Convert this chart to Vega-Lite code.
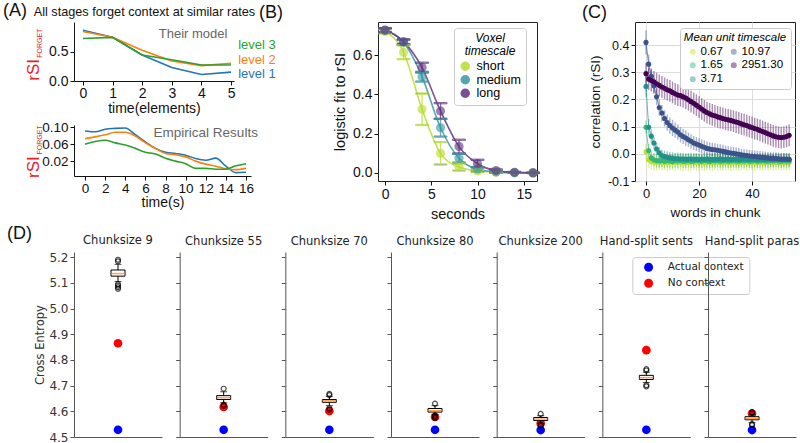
{
"$schema":"https://vega.github.io/schema/vega-lite/v6.json",
"background":"white",
"padding":{"left":2,"top":2,"right":0,"bottom":0},
"bounds":"flush",
"spacing":230,
"resolve":{"scale":{"color":"independent","stroke":"independent","x":"independent","y":"independent"},"legend":{"color":"independent","stroke":"independent"},"axis":{"x":"independent","y":"independent"}},
"config":{
 "view":{"stroke":null},
 "font":"Liberation Sans",
 "axis":{"grid":false,"labelOverlap":false,"domainColor":"#111","tickColor":"#111","labelColor":"#111","titleColor":"#111","titleFontWeight":"normal","labelFont":"Liberation Sans","titleFont":"Liberation Sans"},
 "title":{"fontWeight":"normal","font":"DejaVu Sans"},
 "legend":{"titleFontWeight":"normal"}
},
"datasets":{
 "model":[
  {"level":"level 1","t":0,"r":0.86},{"level":"level 1","t":1,"r":0.74},{"level":"level 1","t":2,"r":0.44},{"level":"level 1","t":3,"r":0.23},{"level":"level 1","t":4,"r":0.11},{"level":"level 1","t":5,"r":0.15},
  {"level":"level 2","t":0,"r":0.84},{"level":"level 2","t":1,"r":0.74},{"level":"level 2","t":2,"r":0.52},{"level":"level 2","t":3,"r":0.34},{"level":"level 2","t":4,"r":0.26},{"level":"level 2","t":5,"r":0.30},
  {"level":"level 3","t":0,"r":0.72},{"level":"level 3","t":1,"r":0.74},{"level":"level 3","t":2,"r":0.44},{"level":"level 3","t":3,"r":0.36},{"level":"level 3","t":4,"r":0.27},{"level":"level 3","t":5,"r":0.27}
 ],
 "emp":[
  {"level":"level 1","t":0,"r":0.091},{"level":"level 1","t":1,"r":0.089},{"level":"level 1","t":2,"r":0.095},{"level":"level 1","t":3,"r":0.097},{"level":"level 1","t":4,"r":0.098},{"level":"level 1","t":5,"r":0.082},{"level":"level 1","t":6,"r":0.065},{"level":"level 1","t":7,"r":0.05},{"level":"level 1","t":8,"r":0.041},{"level":"level 1","t":9,"r":0.038},{"level":"level 1","t":10,"r":0.034},{"level":"level 1","t":11,"r":0.026},{"level":"level 1","t":12,"r":0.022},{"level":"level 1","t":13,"r":0.027},{"level":"level 1","t":14,"r":0.008},{"level":"level 1","t":15,"r":-0.007},{"level":"level 1","t":16,"r":-0.006},
  {"level":"level 2","t":0,"r":0.073},{"level":"level 2","t":1,"r":0.077},{"level":"level 2","t":2,"r":0.082},{"level":"level 2","t":3,"r":0.088},{"level":"level 2","t":4,"r":0.088},{"level":"level 2","t":5,"r":0.079},{"level":"level 2","t":6,"r":0.063},{"level":"level 2","t":7,"r":0.05},{"level":"level 2","t":8,"r":0.038},{"level":"level 2","t":9,"r":0.035},{"level":"level 2","t":10,"r":0.03},{"level":"level 2","t":11,"r":0.02},{"level":"level 2","t":12,"r":0.013},{"level":"level 2","t":13,"r":0.008},{"level":"level 2","t":14,"r":0.002},{"level":"level 2","t":15,"r":0.0},{"level":"level 2","t":16,"r":0.003},
  {"level":"level 3","t":0,"r":0.06},{"level":"level 3","t":1,"r":0.066},{"level":"level 3","t":2,"r":0.069},{"level":"level 3","t":3,"r":0.063},{"level":"level 3","t":4,"r":0.058},{"level":"level 3","t":5,"r":0.05},{"level":"level 3","t":6,"r":0.041},{"level":"level 3","t":7,"r":0.037},{"level":"level 3","t":8,"r":0.027},{"level":"level 3","t":9,"r":0.02},{"level":"level 3","t":10,"r":0.014},{"level":"level 3","t":11,"r":0.003},{"level":"level 3","t":12,"r":0.003},{"level":"level 3","t":13,"r":0.001},{"level":"level 3","t":14,"r":0.001},{"level":"level 3","t":15,"r":0.009},{"level":"level 3","t":16,"r":0.014}
 ],
 "bdat":[
  {"ts":"short","t":0,"v":0.72,"e":0.01},{"ts":"short","t":2,"v":0.614,"e":0.035},{"ts":"short","t":4,"v":0.324,"e":0.08},{"ts":"short","t":6,"v":0.10,"e":0.057},{"ts":"short","t":8,"v":0.03,"e":0.018},{"ts":"short","t":10,"v":0.01,"e":0.006},{"ts":"short","t":12,"v":0.004,"e":0.003},{"ts":"short","t":14,"v":0.001,"e":0.0},{"ts":"short","t":16,"v":0.0,"e":0.0},
  {"ts":"medium","t":0,"v":0.725,"e":0.01},{"ts":"medium","t":2,"v":0.665,"e":0.012},{"ts":"medium","t":4,"v":0.49,"e":0.025},{"ts":"medium","t":6,"v":0.23,"e":0.045},{"ts":"medium","t":8,"v":0.075,"e":0.022},{"ts":"medium","t":10,"v":0.02,"e":0.01},{"ts":"medium","t":12,"v":0.005,"e":0.004},{"ts":"medium","t":14,"v":0.001,"e":0.0},{"ts":"medium","t":16,"v":0.0,"e":0.0},
  {"ts":"long","t":0,"v":0.727,"e":0.01},{"ts":"long","t":2,"v":0.668,"e":0.012},{"ts":"long","t":4,"v":0.536,"e":0.025},{"ts":"long","t":6,"v":0.315,"e":0.04},{"ts":"long","t":8,"v":0.134,"e":0.035},{"ts":"long","t":10,"v":0.047,"e":0.02},{"ts":"long","t":12,"v":0.012,"e":0.006},{"ts":"long","t":14,"v":0.003,"e":0.002},{"ts":"long","t":16,"v":0.001,"e":0.0}
 ],
 "cdat":[
  {"s":"0.67","w":0,"v":0.008,"e":0.03},{"s":"0.67","w":1,"v":-0.022,"e":0.03},{"s":"0.67","w":2,"v":-0.028,"e":0.03},{"s":"0.67","w":3,"v":-0.03,"e":0.03},{"s":"0.67","w":4,"v":-0.031,"e":0.03},{"s":"0.67","w":5,"v":-0.029,"e":0.03},{"s":"0.67","w":6,"v":-0.032,"e":0.03},{"s":"0.67","w":7,"v":-0.03,"e":0.03},{"s":"0.67","w":8,"v":-0.033,"e":0.03},{"s":"0.67","w":9,"v":-0.031,"e":0.03},{"s":"0.67","w":10,"v":-0.03,"e":0.03},{"s":"0.67","w":11,"v":-0.032,"e":0.03},{"s":"0.67","w":12,"v":-0.029,"e":0.03},{"s":"0.67","w":13,"v":-0.031,"e":0.03},{"s":"0.67","w":14,"v":-0.033,"e":0.03},{"s":"0.67","w":15,"v":-0.03,"e":0.03},{"s":"0.67","w":16,"v":-0.032,"e":0.03},{"s":"0.67","w":17,"v":-0.031,"e":0.03},{"s":"0.67","w":18,"v":-0.029,"e":0.03},{"s":"0.67","w":19,"v":-0.032,"e":0.03},{"s":"0.67","w":20,"v":-0.03,"e":0.03},{"s":"0.67","w":21,"v":-0.031,"e":0.03},{"s":"0.67","w":22,"v":-0.033,"e":0.03},{"s":"0.67","w":23,"v":-0.03,"e":0.03},{"s":"0.67","w":24,"v":-0.031,"e":0.03},{"s":"0.67","w":25,"v":-0.032,"e":0.03},{"s":"0.67","w":26,"v":-0.029,"e":0.03},{"s":"0.67","w":27,"v":-0.031,"e":0.03},{"s":"0.67","w":28,"v":-0.03,"e":0.03},{"s":"0.67","w":29,"v":-0.032,"e":0.03},{"s":"0.67","w":30,"v":-0.031,"e":0.03},{"s":"0.67","w":31,"v":-0.03,"e":0.03},{"s":"0.67","w":32,"v":-0.033,"e":0.03},{"s":"0.67","w":33,"v":-0.031,"e":0.03},{"s":"0.67","w":34,"v":-0.03,"e":0.03},{"s":"0.67","w":35,"v":-0.032,"e":0.03},{"s":"0.67","w":36,"v":-0.031,"e":0.03},{"s":"0.67","w":37,"v":-0.029,"e":0.03},{"s":"0.67","w":38,"v":-0.032,"e":0.03},{"s":"0.67","w":39,"v":-0.03,"e":0.03},{"s":"0.67","w":40,"v":-0.031,"e":0.03},{"s":"0.67","w":41,"v":-0.033,"e":0.03},{"s":"0.67","w":42,"v":-0.03,"e":0.03},{"s":"0.67","w":43,"v":-0.031,"e":0.03},{"s":"0.67","w":44,"v":-0.032,"e":0.03},{"s":"0.67","w":45,"v":-0.03,"e":0.03},{"s":"0.67","w":46,"v":-0.031,"e":0.03},{"s":"0.67","w":47,"v":-0.029,"e":0.03},{"s":"0.67","w":48,"v":-0.032,"e":0.03},{"s":"0.67","w":49,"v":-0.031,"e":0.03},{"s":"0.67","w":50,"v":-0.03,"e":0.03},{"s":"0.67","w":51,"v":-0.032,"e":0.03},{"s":"0.67","w":52,"v":-0.031,"e":0.03},{"s":"0.67","w":53,"v":-0.03,"e":0.03},{"s":"0.67","w":54,"v":-0.031,"e":0.03},
  {"s":"1.65","w":0,"v":0.098,"e":0.025},{"s":"1.65","w":1,"v":0.012,"e":0.025},{"s":"1.65","w":2,"v":-0.015,"e":0.025},{"s":"1.65","w":3,"v":-0.022,"e":0.025},{"s":"1.65","w":4,"v":-0.025,"e":0.025},{"s":"1.65","w":5,"v":-0.026,"e":0.025},{"s":"1.65","w":6,"v":-0.024,"e":0.025},{"s":"1.65","w":7,"v":-0.027,"e":0.025},{"s":"1.65","w":8,"v":-0.025,"e":0.025},{"s":"1.65","w":9,"v":-0.026,"e":0.025},{"s":"1.65","w":10,"v":-0.028,"e":0.025},{"s":"1.65","w":11,"v":-0.025,"e":0.025},{"s":"1.65","w":12,"v":-0.026,"e":0.025},{"s":"1.65","w":13,"v":-0.024,"e":0.025},{"s":"1.65","w":14,"v":-0.027,"e":0.025},{"s":"1.65","w":15,"v":-0.026,"e":0.025},{"s":"1.65","w":16,"v":-0.025,"e":0.025},{"s":"1.65","w":17,"v":-0.027,"e":0.025},{"s":"1.65","w":18,"v":-0.026,"e":0.025},{"s":"1.65","w":19,"v":-0.024,"e":0.025},{"s":"1.65","w":20,"v":-0.026,"e":0.025},{"s":"1.65","w":21,"v":-0.027,"e":0.025},{"s":"1.65","w":22,"v":-0.025,"e":0.025},{"s":"1.65","w":23,"v":-0.026,"e":0.025},{"s":"1.65","w":24,"v":-0.028,"e":0.025},{"s":"1.65","w":25,"v":-0.025,"e":0.025},{"s":"1.65","w":26,"v":-0.026,"e":0.025},{"s":"1.65","w":27,"v":-0.024,"e":0.025},{"s":"1.65","w":28,"v":-0.027,"e":0.025},{"s":"1.65","w":29,"v":-0.026,"e":0.025},{"s":"1.65","w":30,"v":-0.025,"e":0.025},{"s":"1.65","w":31,"v":-0.027,"e":0.025},{"s":"1.65","w":32,"v":-0.026,"e":0.025},{"s":"1.65","w":33,"v":-0.025,"e":0.025},{"s":"1.65","w":34,"v":-0.026,"e":0.025},{"s":"1.65","w":35,"v":-0.027,"e":0.025},{"s":"1.65","w":36,"v":-0.025,"e":0.025},{"s":"1.65","w":37,"v":-0.026,"e":0.025},{"s":"1.65","w":38,"v":-0.024,"e":0.025},{"s":"1.65","w":39,"v":-0.027,"e":0.025},{"s":"1.65","w":40,"v":-0.026,"e":0.025},{"s":"1.65","w":41,"v":-0.025,"e":0.025},{"s":"1.65","w":42,"v":-0.027,"e":0.025},{"s":"1.65","w":43,"v":-0.026,"e":0.025},{"s":"1.65","w":44,"v":-0.025,"e":0.025},{"s":"1.65","w":45,"v":-0.026,"e":0.025},{"s":"1.65","w":46,"v":-0.027,"e":0.025},{"s":"1.65","w":47,"v":-0.025,"e":0.025},{"s":"1.65","w":48,"v":-0.026,"e":0.025},{"s":"1.65","w":49,"v":-0.024,"e":0.025},{"s":"1.65","w":50,"v":-0.026,"e":0.025},{"s":"1.65","w":51,"v":-0.027,"e":0.025},{"s":"1.65","w":52,"v":-0.025,"e":0.025},{"s":"1.65","w":53,"v":-0.026,"e":0.025},{"s":"1.65","w":54,"v":-0.026,"e":0.025},
  {"s":"3.71","w":0,"v":0.248,"e":0.04},{"s":"3.71","w":1,"v":0.098,"e":0.03},{"s":"3.71","w":2,"v":0.065,"e":0.025},{"s":"3.71","w":3,"v":0.04,"e":0.022},{"s":"3.71","w":4,"v":0.018,"e":0.022},{"s":"3.71","w":5,"v":0.004,"e":0.022},{"s":"3.71","w":6,"v":-0.006,"e":0.022},{"s":"3.71","w":7,"v":-0.01,"e":0.022},{"s":"3.71","w":8,"v":-0.013,"e":0.022},{"s":"3.71","w":9,"v":-0.015,"e":0.022},{"s":"3.71","w":10,"v":-0.016,"e":0.022},{"s":"3.71","w":11,"v":-0.018,"e":0.022},{"s":"3.71","w":12,"v":-0.017,"e":0.022},{"s":"3.71","w":13,"v":-0.019,"e":0.022},{"s":"3.71","w":14,"v":-0.018,"e":0.022},{"s":"3.71","w":15,"v":-0.02,"e":0.022},{"s":"3.71","w":16,"v":-0.019,"e":0.022},{"s":"3.71","w":17,"v":-0.018,"e":0.022},{"s":"3.71","w":18,"v":-0.02,"e":0.022},{"s":"3.71","w":19,"v":-0.019,"e":0.022},{"s":"3.71","w":20,"v":-0.021,"e":0.022},{"s":"3.71","w":21,"v":-0.019,"e":0.022},{"s":"3.71","w":22,"v":-0.02,"e":0.022},{"s":"3.71","w":23,"v":-0.018,"e":0.022},{"s":"3.71","w":24,"v":-0.02,"e":0.022},{"s":"3.71","w":25,"v":-0.021,"e":0.022},{"s":"3.71","w":26,"v":-0.019,"e":0.022},{"s":"3.71","w":27,"v":-0.02,"e":0.022},{"s":"3.71","w":28,"v":-0.018,"e":0.022},{"s":"3.71","w":29,"v":-0.021,"e":0.022},{"s":"3.71","w":30,"v":-0.02,"e":0.022},{"s":"3.71","w":31,"v":-0.019,"e":0.022},{"s":"3.71","w":32,"v":-0.021,"e":0.022},{"s":"3.71","w":33,"v":-0.02,"e":0.022},{"s":"3.71","w":34,"v":-0.019,"e":0.022},{"s":"3.71","w":35,"v":-0.021,"e":0.022},{"s":"3.71","w":36,"v":-0.02,"e":0.022},{"s":"3.71","w":37,"v":-0.018,"e":0.022},{"s":"3.71","w":38,"v":-0.02,"e":0.022},{"s":"3.71","w":39,"v":-0.021,"e":0.022},{"s":"3.71","w":40,"v":-0.019,"e":0.022},{"s":"3.71","w":41,"v":-0.02,"e":0.022},{"s":"3.71","w":42,"v":-0.021,"e":0.022},{"s":"3.71","w":43,"v":-0.019,"e":0.022},{"s":"3.71","w":44,"v":-0.02,"e":0.022},{"s":"3.71","w":45,"v":-0.021,"e":0.022},{"s":"3.71","w":46,"v":-0.019,"e":0.022},{"s":"3.71","w":47,"v":-0.02,"e":0.022},{"s":"3.71","w":48,"v":-0.021,"e":0.022},{"s":"3.71","w":49,"v":-0.019,"e":0.022},{"s":"3.71","w":50,"v":-0.02,"e":0.022},{"s":"3.71","w":51,"v":-0.021,"e":0.022},{"s":"3.71","w":52,"v":-0.02,"e":0.022},{"s":"3.71","w":53,"v":-0.019,"e":0.022},{"s":"3.71","w":54,"v":-0.021,"e":0.022},
  {"s":"10.97","w":0,"v":0.41,"e":0.045},{"s":"10.97","w":1,"v":0.33,"e":0.035},{"s":"10.97","w":2,"v":0.285,"e":0.03},{"s":"10.97","w":3,"v":0.25,"e":0.03},{"s":"10.97","w":4,"v":0.21,"e":0.03},{"s":"10.97","w":5,"v":0.17,"e":0.03},{"s":"10.97","w":6,"v":0.15,"e":0.03},{"s":"10.97","w":7,"v":0.13,"e":0.03},{"s":"10.97","w":8,"v":0.115,"e":0.03},{"s":"10.97","w":9,"v":0.104,"e":0.03},{"s":"10.97","w":10,"v":0.095,"e":0.03},{"s":"10.97","w":11,"v":0.087,"e":0.028},{"s":"10.97","w":12,"v":0.08,"e":0.028},{"s":"10.97","w":13,"v":0.07,"e":0.028},{"s":"10.97","w":14,"v":0.064,"e":0.028},{"s":"10.97","w":15,"v":0.058,"e":0.028},{"s":"10.97","w":16,"v":0.052,"e":0.026},{"s":"10.97","w":17,"v":0.046,"e":0.026},{"s":"10.97","w":18,"v":0.04,"e":0.026},{"s":"10.97","w":19,"v":0.036,"e":0.026},{"s":"10.97","w":20,"v":0.032,"e":0.025},{"s":"10.97","w":21,"v":0.028,"e":0.025},{"s":"10.97","w":22,"v":0.024,"e":0.025},{"s":"10.97","w":23,"v":0.02,"e":0.025},{"s":"10.97","w":24,"v":0.018,"e":0.024},{"s":"10.97","w":25,"v":0.016,"e":0.024},{"s":"10.97","w":26,"v":0.015,"e":0.024},{"s":"10.97","w":27,"v":0.013,"e":0.024},{"s":"10.97","w":28,"v":0.011,"e":0.024},{"s":"10.97","w":29,"v":0.009,"e":0.024},{"s":"10.97","w":30,"v":0.007,"e":0.023},{"s":"10.97","w":31,"v":0.005,"e":0.023},{"s":"10.97","w":32,"v":0.003,"e":0.023},{"s":"10.97","w":33,"v":0.002,"e":0.023},{"s":"10.97","w":34,"v":0.0,"e":0.023},{"s":"10.97","w":35,"v":-0.002,"e":0.023},{"s":"10.97","w":36,"v":-0.004,"e":0.022},{"s":"10.97","w":37,"v":-0.005,"e":0.022},{"s":"10.97","w":38,"v":-0.006,"e":0.022},{"s":"10.97","w":39,"v":-0.008,"e":0.022},{"s":"10.97","w":40,"v":-0.009,"e":0.022},{"s":"10.97","w":41,"v":-0.01,"e":0.022},{"s":"10.97","w":42,"v":-0.011,"e":0.022},{"s":"10.97","w":43,"v":-0.012,"e":0.022},{"s":"10.97","w":44,"v":-0.013,"e":0.022},{"s":"10.97","w":45,"v":-0.014,"e":0.022},{"s":"10.97","w":46,"v":-0.015,"e":0.022},{"s":"10.97","w":47,"v":-0.016,"e":0.022},{"s":"10.97","w":48,"v":-0.016,"e":0.022},{"s":"10.97","w":49,"v":-0.017,"e":0.022},{"s":"10.97","w":50,"v":-0.018,"e":0.022},{"s":"10.97","w":51,"v":-0.019,"e":0.022},{"s":"10.97","w":52,"v":-0.019,"e":0.022},{"s":"10.97","w":53,"v":-0.02,"e":0.022},{"s":"10.97","w":54,"v":-0.02,"e":0.022},
  {"s":"2951.30","w":0,"v":0.295,"e":0.04},{"s":"2951.30","w":1,"v":0.275,"e":0.04},{"s":"2951.30","w":2,"v":0.27,"e":0.04},{"s":"2951.30","w":3,"v":0.265,"e":0.04},{"s":"2951.30","w":4,"v":0.258,"e":0.04},{"s":"2951.30","w":5,"v":0.252,"e":0.04},{"s":"2951.30","w":6,"v":0.246,"e":0.04},{"s":"2951.30","w":7,"v":0.241,"e":0.04},{"s":"2951.30","w":8,"v":0.236,"e":0.04},{"s":"2951.30","w":9,"v":0.232,"e":0.04},{"s":"2951.30","w":10,"v":0.226,"e":0.04},{"s":"2951.30","w":11,"v":0.221,"e":0.04},{"s":"2951.30","w":12,"v":0.216,"e":0.04},{"s":"2951.30","w":13,"v":0.214,"e":0.04},{"s":"2951.30","w":14,"v":0.21,"e":0.04},{"s":"2951.30","w":15,"v":0.205,"e":0.04},{"s":"2951.30","w":16,"v":0.199,"e":0.04},{"s":"2951.30","w":17,"v":0.192,"e":0.04},{"s":"2951.30","w":18,"v":0.186,"e":0.04},{"s":"2951.30","w":19,"v":0.179,"e":0.04},{"s":"2951.30","w":20,"v":0.172,"e":0.04},{"s":"2951.30","w":21,"v":0.165,"e":0.04},{"s":"2951.30","w":22,"v":0.158,"e":0.04},{"s":"2951.30","w":23,"v":0.152,"e":0.04},{"s":"2951.30","w":24,"v":0.147,"e":0.04},{"s":"2951.30","w":25,"v":0.143,"e":0.04},{"s":"2951.30","w":26,"v":0.14,"e":0.04},{"s":"2951.30","w":27,"v":0.136,"e":0.04},{"s":"2951.30","w":28,"v":0.133,"e":0.04},{"s":"2951.30","w":29,"v":0.13,"e":0.04},{"s":"2951.30","w":30,"v":0.127,"e":0.04},{"s":"2951.30","w":31,"v":0.125,"e":0.04},{"s":"2951.30","w":32,"v":0.123,"e":0.04},{"s":"2951.30","w":33,"v":0.12,"e":0.04},{"s":"2951.30","w":34,"v":0.117,"e":0.04},{"s":"2951.30","w":35,"v":0.114,"e":0.04},{"s":"2951.30","w":36,"v":0.11,"e":0.04},{"s":"2951.30","w":37,"v":0.107,"e":0.04},{"s":"2951.30","w":38,"v":0.104,"e":0.04},{"s":"2951.30","w":39,"v":0.1,"e":0.04},{"s":"2951.30","w":40,"v":0.097,"e":0.04},{"s":"2951.30","w":41,"v":0.093,"e":0.04},{"s":"2951.30","w":42,"v":0.09,"e":0.04},{"s":"2951.30","w":43,"v":0.086,"e":0.04},{"s":"2951.30","w":44,"v":0.082,"e":0.04},{"s":"2951.30","w":45,"v":0.078,"e":0.04},{"s":"2951.30","w":46,"v":0.074,"e":0.04},{"s":"2951.30","w":47,"v":0.07,"e":0.04},{"s":"2951.30","w":48,"v":0.066,"e":0.04},{"s":"2951.30","w":49,"v":0.063,"e":0.04},{"s":"2951.30","w":50,"v":0.061,"e":0.04},{"s":"2951.30","w":51,"v":0.06,"e":0.04},{"s":"2951.30","w":52,"v":0.061,"e":0.04},{"s":"2951.30","w":53,"v":0.064,"e":0.04},{"s":"2951.30","w":54,"v":0.068,"e":0.04}
 ],
 "ddat":[
  {"panel":"Chunksize 9","wlo":5.105,"q1":5.126,"med":5.136,"q3":5.15,"whi":5.172},
  {"panel":"Chunksize 55","wlo":4.633,"q1":4.646,"med":4.653,"q3":4.661,"whi":4.676},
  {"panel":"Chunksize 70","wlo":4.622,"q1":4.635,"med":4.641,"q3":4.646,"whi":4.658},
  {"panel":"Chunksize 80","wlo":4.588,"q1":4.597,"med":4.603,"q3":4.611,"whi":4.622},
  {"panel":"Chunksize 200","wlo":4.554,"q1":4.564,"med":4.57,"q3":4.576,"whi":4.583},
  {"panel":"Hand-split sents","wlo":4.712,"q1":4.724,"med":4.731,"q3":4.74,"whi":4.752},
  {"panel":"Hand-split paras","wlo":4.556,"q1":4.567,"med":4.572,"q3":4.579,"whi":4.588}
 ],
 "dout":[
  {"panel":"Chunksize 9","y":5.19},{"panel":"Chunksize 9","y":5.184},{"panel":"Chunksize 9","y":5.095},{"panel":"Chunksize 9","y":5.089},{"panel":"Chunksize 9","y":5.083},{"panel":"Chunksize 9","y":5.077},
  {"panel":"Chunksize 55","y":4.688},{"panel":"Chunksize 55","y":4.626},{"panel":"Chunksize 55","y":4.621},
  {"panel":"Chunksize 70","y":4.668},{"panel":"Chunksize 70","y":4.663},{"panel":"Chunksize 70","y":4.612},{"panel":"Chunksize 70","y":4.607},
  {"panel":"Chunksize 80","y":4.63},{"panel":"Chunksize 80","y":4.583},{"panel":"Chunksize 80","y":4.578},{"panel":"Chunksize 80","y":4.574},
  {"panel":"Chunksize 200","y":4.59},{"panel":"Chunksize 200","y":4.547},{"panel":"Chunksize 200","y":4.543},
  {"panel":"Hand-split sents","y":4.764},{"panel":"Hand-split sents","y":4.759},{"panel":"Hand-split sents","y":4.702},{"panel":"Hand-split sents","y":4.697},
  {"panel":"Hand-split paras","y":4.597},{"panel":"Hand-split paras","y":4.593},{"panel":"Hand-split paras","y":4.55},{"panel":"Hand-split paras","y":4.546}
 ],
 "dctx":[
  {"panel":"Chunksize 9","ctx":"No context","y":4.865},{"panel":"Chunksize 9","ctx":"Actual context","y":4.528},
  {"panel":"Chunksize 55","ctx":"No context","y":4.617},{"panel":"Chunksize 55","ctx":"Actual context","y":4.528},
  {"panel":"Chunksize 70","ctx":"No context","y":4.601},{"panel":"Chunksize 70","ctx":"Actual context","y":4.528},
  {"panel":"Chunksize 80","ctx":"No context","y":4.578},{"panel":"Chunksize 80","ctx":"Actual context","y":4.528},
  {"panel":"Chunksize 200","ctx":"No context","y":4.553},{"panel":"Chunksize 200","ctx":"Actual context","y":4.527},
  {"panel":"Hand-split sents","ctx":"No context","y":4.838},{"panel":"Hand-split sents","ctx":"Actual context","y":4.528},
  {"panel":"Hand-split paras","ctx":"No context","y":4.591},{"panel":"Hand-split paras","ctx":"Actual context","y":4.527}
 ]
},
"vconcat":[
 {"bounds":"flush","spacing":304,
  "resolve":{"scale":{"color":"independent","stroke":"independent","x":"independent","y":"independent"},"legend":{"color":"independent","stroke":"independent"},"axis":{"x":"independent","y":"independent"}},
  "hconcat":[
   {"bounds":"flush","spacing":44,
    "resolve":{"scale":{"color":"independent","stroke":"independent","x":"independent","y":"independent"},"legend":{"color":"independent","stroke":"independent"},"axis":{"x":"independent","y":"independent"}},
    "vconcat":[
     {"width":160,"height":59,
      "layer":[
       {"data":{"name":"model"},"mark":{"type":"line","strokeWidth":1.6},
        "encoding":{
         "x":{"field":"t","type":"quantitative","scale":{"domain":[-0.3,5.1],"nice":false,"zero":false},"axis":{"values":[0,1,2,3,4,5],"tickCount":50,"format":"d","title":"time(elements)","labelFontSize":14,"titleFontSize":14,"tickSize":4,"labelPadding":1,"titlePadding":1}},
         "y":{"field":"r","type":"quantitative","scale":{"domain":[0,1],"nice":false,"zero":false},"axis":{"values":[0,0.5],"tickCount":50,"format":".1f","title":null,"labelFontSize":14,"tickSize":4,"labelPadding":2}},
         "color":{"field":"level","type":"nominal","scale":{"domain":["level 1","level 2","level 3"],"range":["#1f77b4","#ff7f0e","#2ca02c"]},"legend":null}}},
       {"data":{"values":[{}]},"mark":{"type":"text","align":"left","baseline":"middle","fontSize":18,"color":"#111"},"encoding":{"x":{"datum":-2.7,"type":"quantitative"},"y":{"datum":1.18,"type":"quantitative"},"text":{"value":"(A)"}}},
       {"data":{"values":[{}]},"mark":{"type":"text","align":"left","baseline":"middle","fontSize":12.7,"color":"#111"},"encoding":{"x":{"datum":-1.66,"type":"quantitative"},"y":{"datum":1.17,"type":"quantitative"},"text":{"value":"All stages forget context at similar rates"}}},
       {"data":{"values":[{}]},"mark":{"type":"text","align":"center","baseline":"middle","fontSize":13,"color":"#666"},"encoding":{"x":{"datum":3.72,"type":"quantitative"},"y":{"datum":0.8,"type":"quantitative"},"text":{"value":"Their model"}}},
       {"data":{"values":[{}]},"mark":{"type":"text","align":"left","baseline":"middle","fontSize":13,"color":"#2ca02c"},"encoding":{"x":{"datum":5.24,"type":"quantitative"},"y":{"datum":0.61,"type":"quantitative"},"text":{"value":"level 3"}}},
       {"data":{"values":[{}]},"mark":{"type":"text","align":"left","baseline":"middle","fontSize":13,"color":"#ff7f0e"},"encoding":{"x":{"datum":5.24,"type":"quantitative"},"y":{"datum":0.36,"type":"quantitative"},"text":{"value":"level 2"}}},
       {"data":{"values":[{}]},"mark":{"type":"text","align":"left","baseline":"middle","fontSize":13,"color":"#1f77b4"},"encoding":{"x":{"datum":5.24,"type":"quantitative"},"y":{"datum":0.12,"type":"quantitative"},"text":{"value":"level 1"}}},
       {"data":{"values":[{}]},"mark":{"type":"text","align":"center","baseline":"middle","angle":270,"fontSize":17,"color":"#e0242a"},"encoding":{"x":{"datum":-1.66,"type":"quantitative"},"y":{"datum":0.19,"type":"quantitative"},"text":{"value":"rSI"}}},
       {"data":{"values":[{}]},"mark":{"type":"text","align":"center","baseline":"middle","angle":270,"fontSize":7,"color":"#e0242a"},"encoding":{"x":{"datum":-1.45,"type":"quantitative"},"y":{"datum":0.64,"type":"quantitative"},"text":{"value":"FORGET"}}}
      ]},
     {"width":177,"height":51,
      "layer":[
       {"data":{"name":"emp"},"mark":{"type":"line","interpolate":"monotone","strokeWidth":1.6},
        "encoding":{
         "x":{"field":"t","type":"quantitative","scale":{"domain":[-1.1,16.5],"nice":false,"zero":false},"axis":{"values":[0,2,4,6,8,10,12,14,16],"tickCount":50,"format":"d","title":"time(s)","labelFontSize":13.5,"titleFontSize":14,"tickSize":4,"labelPadding":1,"titlePadding":1}},
         "y":{"field":"r","type":"quantitative","scale":{"domain":[-0.015,0.105],"nice":false,"zero":false},"axis":{"values":[0.02,0.06,0.1],"tickCount":50,"format":".2f","title":null,"labelFontSize":13.5,"tickSize":4,"labelPadding":2}},
         "color":{"field":"level","type":"nominal","scale":{"domain":["level 1","level 2","level 3"],"range":["#1f77b4","#ff7f0e","#2ca02c"]},"legend":null}}},
       {"data":{"values":[{}]},"mark":{"type":"text","align":"center","baseline":"middle","fontSize":13.5,"color":"#666"},"encoding":{"x":{"datum":12.0,"type":"quantitative"},"y":{"datum":0.086,"type":"quantitative"},"text":{"value":"Empirical Results"}}},
       {"data":{"values":[{}]},"mark":{"type":"text","align":"center","baseline":"middle","angle":270,"fontSize":17,"color":"#e0242a"},"encoding":{"x":{"datum":-5.07,"type":"quantitative"},"y":{"datum":0.006,"type":"quantitative"},"text":{"value":"rSI"}}},
       {"data":{"values":[{}]},"mark":{"type":"text","align":"center","baseline":"middle","angle":270,"fontSize":7,"color":"#e0242a"},"encoding":{"x":{"datum":-4.47,"type":"quantitative"},"y":{"datum":0.07,"type":"quantitative"},"text":{"value":"FORGET"}}}
      ]}
    ]},
   {"bounds":"flush","spacing":98,
    "resolve":{"scale":{"color":"independent","stroke":"independent","x":"independent","y":"independent"},"legend":{"color":"independent","stroke":"independent"},"axis":{"x":"independent","y":"independent"}},
    "hconcat":[
     {"width":159,"height":159,"view":{"stroke":"#222","strokeWidth":1},
      "layer":[
       {"data":{"name":"bdat"},"mark":{"type":"line","interpolate":"monotone","strokeWidth":1.6,"opacity":0.85},
        "encoding":{
         "x":{"field":"t","type":"quantitative","scale":{"domain":[-0.76,16.43],"nice":false,"zero":false},"axis":{"values":[0,5,10,15],"tickCount":50,"format":"d","title":"seconds","domain":false,"tickSize":4,"labelFontSize":14,"titleFontSize":14.5,"labelPadding":2,"titlePadding":6}},
         "y":{"field":"v","type":"quantitative","scale":{"domain":[-0.041,0.768],"nice":false,"zero":false},"axis":{"values":[0,0.2,0.4,0.6],"tickCount":50,"format":".1f","title":"logistic fit to rSI","domain":false,"tickSize":4,"labelFontSize":14,"titleFontSize":14.5,"labelPadding":2,"titlePadding":5}},
         "stroke":{"field":"ts","type":"nominal","scale":{"domain":["short","medium","long"],"range":["#b8dc2e","#3797a3","#63337f"]}}}},
       {"data":{"name":"bdat"},"mark":{"type":"errorbar","ticks":true,"size":13,"thickness":1.3,"opacity":0.75},
        "encoding":{
         "x":{"field":"t","type":"quantitative","scale":{"domain":[-0.76,16.43],"nice":false,"zero":false},"axis":{"values":[0,5,10,15],"tickCount":50,"format":"d","title":"seconds","domain":false,"tickSize":4,"labelFontSize":14,"titleFontSize":14.5,"labelPadding":2,"titlePadding":6}},
         "y":{"field":"v","type":"quantitative","scale":{"domain":[-0.041,0.768],"nice":false,"zero":false},"axis":{"values":[0,0.2,0.4,0.6],"tickCount":50,"format":".1f","title":"logistic fit to rSI","domain":false,"tickSize":4,"labelFontSize":14,"titleFontSize":14.5,"labelPadding":2,"titlePadding":5}},
         "yError":{"field":"e"},
         "stroke":{"field":"ts","type":"nominal","scale":{"domain":["short","medium","long"],"range":["#b8dc2e","#3797a3","#63337f"]}}}},
       {"data":{"name":"bdat"},"mark":{"type":"circle","size":85,"opacity":0.62},
        "encoding":{
         "x":{"field":"t","type":"quantitative","scale":{"domain":[-0.76,16.43],"nice":false,"zero":false},"axis":{"values":[0,5,10,15],"tickCount":50,"format":"d","title":"seconds","domain":false,"tickSize":4,"labelFontSize":14,"titleFontSize":14.5,"labelPadding":2,"titlePadding":6}},
         "y":{"field":"v","type":"quantitative","scale":{"domain":[-0.041,0.768],"nice":false,"zero":false},"axis":{"values":[0,0.2,0.4,0.6],"tickCount":50,"format":".1f","title":"logistic fit to rSI","domain":false,"tickSize":4,"labelFontSize":14,"titleFontSize":14.5,"labelPadding":2,"titlePadding":5}},
         "color":{"field":"ts","type":"nominal","scale":{"domain":["short","medium","long"],"range":["#b8dc2e","#3797a3","#63337f"]},
          "legend":{"title":["Voxel","timescale"],"orient":"none","legendX":76,"legendY":6,"fillColor":"white","strokeColor":"#ccc","cornerRadius":3,"padding":5,"titleFontStyle":"italic","titleFontSize":12,"titleAnchor":"middle","titleAlign":"center","titleLineHeight":13,"titlePadding":2,"labelFontSize":12.5,"labelOffset":5,"symbolType":"circle","symbolSize":90,"symbolOpacity":0.62,"symbolStrokeWidth":0,"rowPadding":0.5}}}},
       {"data":{"values":[{}]},"mark":{"type":"text","align":"left","baseline":"middle","fontSize":18,"color":"#111"},"encoding":{"x":{"datum":-13.63,"type":"quantitative"},"y":{"datum":0.814,"type":"quantitative"},"text":{"value":"(B)"}}}
      ]},
     {"width":160,"height":159,"view":{"stroke":"#222","strokeWidth":1},
      "layer":[
       {"data":{"name":"cdat"},"mark":{"type":"errorbar","thickness":1.4},
        "encoding":{
         "x":{"field":"w","type":"quantitative","scale":{"domain":[-4.15,56.2],"nice":false,"zero":false},"axis":{"values":[0,20,40],"tickCount":50,"format":"d","title":"words in chunk","grid":true,"gridColor":"#dcdcdc","domain":false,"tickSize":4,"labelFontSize":13,"titleFontSize":13.5,"labelPadding":2,"titlePadding":5}},
         "y":{"field":"v","type":"quantitative","scale":{"domain":[-0.1,0.485],"nice":false,"zero":false},"axis":{"values":[-0.1,0,0.1,0.2,0.3,0.4],"tickCount":50,"format":".1f","labelExpr":"replace(datum.label, '\u2212', '-')","title":"correlation (rSI)","grid":true,"gridColor":"#dcdcdc","domain":false,"tickSize":4,"labelFontSize":12.5,"titleFontSize":13.5,"labelPadding":2,"titlePadding":5}},
         "yError":{"field":"e"},
         "opacity":{"value":0.45},
         "stroke":{"field":"s","type":"nominal","scale":{"domain":["0.67","1.65","3.71","10.97","2951.30"],"range":["#c2df23","#35b779","#21918c","#3b528b","#440154"]}}}},
       {"data":{"name":"cdat"},"mark":{"type":"line","strokeWidth":1},
        "encoding":{
         "x":{"field":"w","type":"quantitative","scale":{"domain":[-4.15,56.2],"nice":false,"zero":false},"axis":{"values":[0,20,40],"tickCount":50,"format":"d","title":"words in chunk","grid":true,"gridColor":"#dcdcdc","domain":false,"tickSize":4,"labelFontSize":13,"titleFontSize":13.5,"labelPadding":2,"titlePadding":5}},
         "y":{"field":"v","type":"quantitative","scale":{"domain":[-0.1,0.485],"nice":false,"zero":false},"axis":{"values":[-0.1,0,0.1,0.2,0.3,0.4],"tickCount":50,"format":".1f","labelExpr":"replace(datum.label, '\u2212', '-')","title":"correlation (rSI)","grid":true,"gridColor":"#dcdcdc","domain":false,"tickSize":4,"labelFontSize":12.5,"titleFontSize":13.5,"labelPadding":2,"titlePadding":5}},
         "opacity":{"value":0.7},
         "stroke":{"field":"s","type":"nominal","scale":{"domain":["0.67","1.65","3.71","10.97","2951.30"],"range":["#c2df23","#35b779","#21918c","#3b528b","#440154"]}}}},
       {"data":{"name":"cdat"},"mark":{"type":"circle","size":26,"opacity":1},
        "encoding":{
         "x":{"field":"w","type":"quantitative","scale":{"domain":[-4.15,56.2],"nice":false,"zero":false},"axis":{"values":[0,20,40],"tickCount":50,"format":"d","title":"words in chunk","grid":true,"gridColor":"#dcdcdc","domain":false,"tickSize":4,"labelFontSize":13,"titleFontSize":13.5,"labelPadding":2,"titlePadding":5}},
         "y":{"field":"v","type":"quantitative","scale":{"domain":[-0.1,0.485],"nice":false,"zero":false},"axis":{"values":[-0.1,0,0.1,0.2,0.3,0.4],"tickCount":50,"format":".1f","labelExpr":"replace(datum.label, '\u2212', '-')","title":"correlation (rSI)","grid":true,"gridColor":"#dcdcdc","domain":false,"tickSize":4,"labelFontSize":12.5,"titleFontSize":13.5,"labelPadding":2,"titlePadding":5}},
         "color":{"field":"s","type":"nominal","scale":{"domain":["0.67","1.65","3.71","10.97","2951.30"],"range":["#c2df23","#35b779","#21918c","#3b528b","#440154"]},
          "legend":{"title":"Mean unit timescale","orient":"none","legendX":45,"legendY":6,"columns":2,"fillColor":"white","strokeColor":"#ccc","cornerRadius":3,"padding":4,"titleFontStyle":"italic","titleFontSize":11.5,"titleAnchor":"middle","titlePadding":2,"labelFontSize":11.5,"labelOffset":2,"symbolType":"circle","symbolSize":36,"symbolOpacity":1,"symbolStrokeWidth":0,"rowPadding":1,"columnPadding":5}}}},
       {"data":{"values":[{}]},"mark":{"type":"text","align":"left","baseline":"middle","fontSize":18,"color":"#111"},"encoding":{"x":{"datum":-24.15,"type":"quantitative"},"y":{"datum":0.518,"type":"quantitative"},"text":{"value":"(C)"}}}
      ]}
    ]}
  ]},
 {"bounds":"flush","spacing":17.67,
  "title":{"text":"(D)","anchor":"start","frame":"group","dx":-67,"offset":-26,"fontSize":18,"fontWeight":"normal","baseline":"bottom","font":"Liberation Sans","color":"#111"},
  "resolve":{"scale":{"color":"independent","stroke":"independent","x":"independent","y":"independent"},"legend":{"color":"independent","stroke":"independent"},"axis":{"x":"independent","y":"independent"}},
  "hconcat":[
   {"width":88,"height":185,"title":{"text":"Chunksize 9","fontSize":11.5,"offset":-6,"baseline":"bottom","color":"#222"},
    "encoding":{"x":{"field":"panel","type":"nominal","scale":{"type":"point"},"axis":{"labels":false,"ticks":false,"title":null,"domainColor":"#555"}}},
    "layer":[
     {"data":{"name":"dctx"},"transform":[{"filter":"datum.panel === 'Chunksize 9'"}],"mark":{"type":"circle","size":75,"opacity":1},"encoding":{"y":{"field":"y","type":"quantitative","scale":{"domain":[4.5,5.22],"nice":false,"zero":false},"axis":{"title":"Cross Entropy","values":[4.5,4.6,4.7,4.8,4.9,5,5.1,5.2],"format":".1f","domainColor":"#555","tickColor":"#555","tickSize":4,"labelFont":"DejaVu Sans","labelFontSize":12,"labelColor":"#333","titleFont":"DejaVu Sans","titleFontSize":11.5,"titleColor":"#333","labelPadding":2,"titlePadding":3}},"color":{"field":"ctx","type":"nominal","scale":{"domain":["Actual context","No context"],"range":["#0000ff","#ff0000"]},"legend":null}}},
     {"data":{"name":"ddat"},"transform":[{"filter":"datum.panel === 'Chunksize 9'"}],"mark":{"type":"rule","color":"black","strokeWidth":1},"encoding":{"y":{"field":"wlo","type":"quantitative","scale":{"domain":[4.5,5.22],"nice":false,"zero":false},"axis":{"title":"Cross Entropy","values":[4.5,4.6,4.7,4.8,4.9,5,5.1,5.2],"format":".1f","domainColor":"#555","tickColor":"#555","tickSize":4,"labelFont":"DejaVu Sans","labelFontSize":12,"labelColor":"#333","titleFont":"DejaVu Sans","titleFontSize":11.5,"titleColor":"#333","labelPadding":2,"titlePadding":3}},"y2":{"field":"whi"}}},
     {"data":{"name":"ddat"},"transform":[{"filter":"datum.panel === 'Chunksize 9'"}],"mark":{"type":"tick","color":"black","size":7,"thickness":1},"encoding":{"y":{"field":"wlo","type":"quantitative","scale":{"domain":[4.5,5.22],"nice":false,"zero":false},"axis":{"title":"Cross Entropy","values":[4.5,4.6,4.7,4.8,4.9,5,5.1,5.2],"format":".1f","domainColor":"#555","tickColor":"#555","tickSize":4,"labelFont":"DejaVu Sans","labelFontSize":12,"labelColor":"#333","titleFont":"DejaVu Sans","titleFontSize":11.5,"titleColor":"#333","labelPadding":2,"titlePadding":3}}}},
     {"data":{"name":"ddat"},"transform":[{"filter":"datum.panel === 'Chunksize 9'"}],"mark":{"type":"tick","color":"black","size":7,"thickness":1},"encoding":{"y":{"field":"whi","type":"quantitative","scale":{"domain":[4.5,5.22],"nice":false,"zero":false},"axis":{"title":"Cross Entropy","values":[4.5,4.6,4.7,4.8,4.9,5,5.1,5.2],"format":".1f","domainColor":"#555","tickColor":"#555","tickSize":4,"labelFont":"DejaVu Sans","labelFontSize":12,"labelColor":"#333","titleFont":"DejaVu Sans","titleFontSize":11.5,"titleColor":"#333","labelPadding":2,"titlePadding":3}}}},
     {"data":{"name":"ddat"},"transform":[{"filter":"datum.panel === 'Chunksize 9'"}],"mark":{"type":"bar","size":14,"fill":"white","stroke":"black","strokeWidth":1},"encoding":{"y":{"field":"q1","type":"quantitative","scale":{"domain":[4.5,5.22],"nice":false,"zero":false},"axis":{"title":"Cross Entropy","values":[4.5,4.6,4.7,4.8,4.9,5,5.1,5.2],"format":".1f","domainColor":"#555","tickColor":"#555","tickSize":4,"labelFont":"DejaVu Sans","labelFontSize":12,"labelColor":"#333","titleFont":"DejaVu Sans","titleFontSize":11.5,"titleColor":"#333","labelPadding":2,"titlePadding":3}},"y2":{"field":"q3"}}},
     {"data":{"name":"ddat"},"transform":[{"filter":"datum.panel === 'Chunksize 9'"}],"mark":{"type":"tick","color":"#ff7f0e","size":14,"thickness":1.5},"encoding":{"y":{"field":"med","type":"quantitative","scale":{"domain":[4.5,5.22],"nice":false,"zero":false},"axis":{"title":"Cross Entropy","values":[4.5,4.6,4.7,4.8,4.9,5,5.1,5.2],"format":".1f","domainColor":"#555","tickColor":"#555","tickSize":4,"labelFont":"DejaVu Sans","labelFontSize":12,"labelColor":"#333","titleFont":"DejaVu Sans","titleFontSize":11.5,"titleColor":"#333","labelPadding":2,"titlePadding":3}}}},
     {"data":{"name":"dout"},"transform":[{"filter":"datum.panel === 'Chunksize 9'"}],"mark":{"type":"point","shape":"circle","filled":false,"size":24,"color":"black","strokeWidth":1.2},"encoding":{"y":{"field":"y","type":"quantitative","scale":{"domain":[4.5,5.22],"nice":false,"zero":false},"axis":{"title":"Cross Entropy","values":[4.5,4.6,4.7,4.8,4.9,5,5.1,5.2],"format":".1f","domainColor":"#555","tickColor":"#555","tickSize":4,"labelFont":"DejaVu Sans","labelFontSize":12,"labelColor":"#333","titleFont":"DejaVu Sans","titleFontSize":11.5,"titleColor":"#333","labelPadding":2,"titlePadding":3}}}}
    ]},
   {"width":88,"height":185,"title":{"text":"Chunksize 55","fontSize":11.5,"offset":-6,"baseline":"bottom","color":"#222"},
    "encoding":{"x":{"field":"panel","type":"nominal","scale":{"type":"point"},"axis":{"labels":false,"ticks":false,"title":null,"domainColor":"#555"}}},
    "layer":[
     {"data":{"name":"dctx"},"transform":[{"filter":"datum.panel === 'Chunksize 55'"}],"mark":{"type":"circle","size":75,"opacity":1},"encoding":{"y":{"field":"y","type":"quantitative","scale":{"domain":[4.5,5.22],"nice":false,"zero":false},"axis":{"title":null,"values":[4.5,4.6,4.7,4.8,4.9,5,5.1,5.2],"labels":false,"domainColor":"#555","tickColor":"#555","tickSize":4}},"color":{"field":"ctx","type":"nominal","scale":{"domain":["Actual context","No context"],"range":["#0000ff","#ff0000"]},"legend":null}}},
     {"data":{"name":"ddat"},"transform":[{"filter":"datum.panel === 'Chunksize 55'"}],"mark":{"type":"rule","color":"black","strokeWidth":1},"encoding":{"y":{"field":"wlo","type":"quantitative","scale":{"domain":[4.5,5.22],"nice":false,"zero":false},"axis":{"title":null,"values":[4.5,4.6,4.7,4.8,4.9,5,5.1,5.2],"labels":false,"domainColor":"#555","tickColor":"#555","tickSize":4}},"y2":{"field":"whi"}}},
     {"data":{"name":"ddat"},"transform":[{"filter":"datum.panel === 'Chunksize 55'"}],"mark":{"type":"tick","color":"black","size":7,"thickness":1},"encoding":{"y":{"field":"wlo","type":"quantitative","scale":{"domain":[4.5,5.22],"nice":false,"zero":false},"axis":{"title":null,"values":[4.5,4.6,4.7,4.8,4.9,5,5.1,5.2],"labels":false,"domainColor":"#555","tickColor":"#555","tickSize":4}}}},
     {"data":{"name":"ddat"},"transform":[{"filter":"datum.panel === 'Chunksize 55'"}],"mark":{"type":"tick","color":"black","size":7,"thickness":1},"encoding":{"y":{"field":"whi","type":"quantitative","scale":{"domain":[4.5,5.22],"nice":false,"zero":false},"axis":{"title":null,"values":[4.5,4.6,4.7,4.8,4.9,5,5.1,5.2],"labels":false,"domainColor":"#555","tickColor":"#555","tickSize":4}}}},
     {"data":{"name":"ddat"},"transform":[{"filter":"datum.panel === 'Chunksize 55'"}],"mark":{"type":"bar","size":14,"fill":"white","stroke":"black","strokeWidth":1},"encoding":{"y":{"field":"q1","type":"quantitative","scale":{"domain":[4.5,5.22],"nice":false,"zero":false},"axis":{"title":null,"values":[4.5,4.6,4.7,4.8,4.9,5,5.1,5.2],"labels":false,"domainColor":"#555","tickColor":"#555","tickSize":4}},"y2":{"field":"q3"}}},
     {"data":{"name":"ddat"},"transform":[{"filter":"datum.panel === 'Chunksize 55'"}],"mark":{"type":"tick","color":"#ff7f0e","size":14,"thickness":1.5},"encoding":{"y":{"field":"med","type":"quantitative","scale":{"domain":[4.5,5.22],"nice":false,"zero":false},"axis":{"title":null,"values":[4.5,4.6,4.7,4.8,4.9,5,5.1,5.2],"labels":false,"domainColor":"#555","tickColor":"#555","tickSize":4}}}},
     {"data":{"name":"dout"},"transform":[{"filter":"datum.panel === 'Chunksize 55'"}],"mark":{"type":"point","shape":"circle","filled":false,"size":24,"color":"black","strokeWidth":1.2},"encoding":{"y":{"field":"y","type":"quantitative","scale":{"domain":[4.5,5.22],"nice":false,"zero":false},"axis":{"title":null,"values":[4.5,4.6,4.7,4.8,4.9,5,5.1,5.2],"labels":false,"domainColor":"#555","tickColor":"#555","tickSize":4}}}}
    ]},
   {"width":88,"height":185,"title":{"text":"Chunksize 70","fontSize":11.5,"offset":-6,"baseline":"bottom","color":"#222"},
    "encoding":{"x":{"field":"panel","type":"nominal","scale":{"type":"point"},"axis":{"labels":false,"ticks":false,"title":null,"domainColor":"#555"}}},
    "layer":[
     {"data":{"name":"dctx"},"transform":[{"filter":"datum.panel === 'Chunksize 70'"}],"mark":{"type":"circle","size":75,"opacity":1},"encoding":{"y":{"field":"y","type":"quantitative","scale":{"domain":[4.5,5.22],"nice":false,"zero":false},"axis":{"title":null,"values":[4.5,4.6,4.7,4.8,4.9,5,5.1,5.2],"labels":false,"domainColor":"#555","tickColor":"#555","tickSize":4}},"color":{"field":"ctx","type":"nominal","scale":{"domain":["Actual context","No context"],"range":["#0000ff","#ff0000"]},"legend":null}}},
     {"data":{"name":"ddat"},"transform":[{"filter":"datum.panel === 'Chunksize 70'"}],"mark":{"type":"rule","color":"black","strokeWidth":1},"encoding":{"y":{"field":"wlo","type":"quantitative","scale":{"domain":[4.5,5.22],"nice":false,"zero":false},"axis":{"title":null,"values":[4.5,4.6,4.7,4.8,4.9,5,5.1,5.2],"labels":false,"domainColor":"#555","tickColor":"#555","tickSize":4}},"y2":{"field":"whi"}}},
     {"data":{"name":"ddat"},"transform":[{"filter":"datum.panel === 'Chunksize 70'"}],"mark":{"type":"tick","color":"black","size":7,"thickness":1},"encoding":{"y":{"field":"wlo","type":"quantitative","scale":{"domain":[4.5,5.22],"nice":false,"zero":false},"axis":{"title":null,"values":[4.5,4.6,4.7,4.8,4.9,5,5.1,5.2],"labels":false,"domainColor":"#555","tickColor":"#555","tickSize":4}}}},
     {"data":{"name":"ddat"},"transform":[{"filter":"datum.panel === 'Chunksize 70'"}],"mark":{"type":"tick","color":"black","size":7,"thickness":1},"encoding":{"y":{"field":"whi","type":"quantitative","scale":{"domain":[4.5,5.22],"nice":false,"zero":false},"axis":{"title":null,"values":[4.5,4.6,4.7,4.8,4.9,5,5.1,5.2],"labels":false,"domainColor":"#555","tickColor":"#555","tickSize":4}}}},
     {"data":{"name":"ddat"},"transform":[{"filter":"datum.panel === 'Chunksize 70'"}],"mark":{"type":"bar","size":14,"fill":"white","stroke":"black","strokeWidth":1},"encoding":{"y":{"field":"q1","type":"quantitative","scale":{"domain":[4.5,5.22],"nice":false,"zero":false},"axis":{"title":null,"values":[4.5,4.6,4.7,4.8,4.9,5,5.1,5.2],"labels":false,"domainColor":"#555","tickColor":"#555","tickSize":4}},"y2":{"field":"q3"}}},
     {"data":{"name":"ddat"},"transform":[{"filter":"datum.panel === 'Chunksize 70'"}],"mark":{"type":"tick","color":"#ff7f0e","size":14,"thickness":1.5},"encoding":{"y":{"field":"med","type":"quantitative","scale":{"domain":[4.5,5.22],"nice":false,"zero":false},"axis":{"title":null,"values":[4.5,4.6,4.7,4.8,4.9,5,5.1,5.2],"labels":false,"domainColor":"#555","tickColor":"#555","tickSize":4}}}},
     {"data":{"name":"dout"},"transform":[{"filter":"datum.panel === 'Chunksize 70'"}],"mark":{"type":"point","shape":"circle","filled":false,"size":24,"color":"black","strokeWidth":1.2},"encoding":{"y":{"field":"y","type":"quantitative","scale":{"domain":[4.5,5.22],"nice":false,"zero":false},"axis":{"title":null,"values":[4.5,4.6,4.7,4.8,4.9,5,5.1,5.2],"labels":false,"domainColor":"#555","tickColor":"#555","tickSize":4}}}}
    ]},
   {"width":88,"height":185,"title":{"text":"Chunksize 80","fontSize":11.5,"offset":-6,"baseline":"bottom","color":"#222"},
    "encoding":{"x":{"field":"panel","type":"nominal","scale":{"type":"point"},"axis":{"labels":false,"ticks":false,"title":null,"domainColor":"#555"}}},
    "layer":[
     {"data":{"name":"dctx"},"transform":[{"filter":"datum.panel === 'Chunksize 80'"}],"mark":{"type":"circle","size":75,"opacity":1},"encoding":{"y":{"field":"y","type":"quantitative","scale":{"domain":[4.5,5.22],"nice":false,"zero":false},"axis":{"title":null,"values":[4.5,4.6,4.7,4.8,4.9,5,5.1,5.2],"labels":false,"domainColor":"#555","tickColor":"#555","tickSize":4}},"color":{"field":"ctx","type":"nominal","scale":{"domain":["Actual context","No context"],"range":["#0000ff","#ff0000"]},"legend":null}}},
     {"data":{"name":"ddat"},"transform":[{"filter":"datum.panel === 'Chunksize 80'"}],"mark":{"type":"rule","color":"black","strokeWidth":1},"encoding":{"y":{"field":"wlo","type":"quantitative","scale":{"domain":[4.5,5.22],"nice":false,"zero":false},"axis":{"title":null,"values":[4.5,4.6,4.7,4.8,4.9,5,5.1,5.2],"labels":false,"domainColor":"#555","tickColor":"#555","tickSize":4}},"y2":{"field":"whi"}}},
     {"data":{"name":"ddat"},"transform":[{"filter":"datum.panel === 'Chunksize 80'"}],"mark":{"type":"tick","color":"black","size":7,"thickness":1},"encoding":{"y":{"field":"wlo","type":"quantitative","scale":{"domain":[4.5,5.22],"nice":false,"zero":false},"axis":{"title":null,"values":[4.5,4.6,4.7,4.8,4.9,5,5.1,5.2],"labels":false,"domainColor":"#555","tickColor":"#555","tickSize":4}}}},
     {"data":{"name":"ddat"},"transform":[{"filter":"datum.panel === 'Chunksize 80'"}],"mark":{"type":"tick","color":"black","size":7,"thickness":1},"encoding":{"y":{"field":"whi","type":"quantitative","scale":{"domain":[4.5,5.22],"nice":false,"zero":false},"axis":{"title":null,"values":[4.5,4.6,4.7,4.8,4.9,5,5.1,5.2],"labels":false,"domainColor":"#555","tickColor":"#555","tickSize":4}}}},
     {"data":{"name":"ddat"},"transform":[{"filter":"datum.panel === 'Chunksize 80'"}],"mark":{"type":"bar","size":14,"fill":"white","stroke":"black","strokeWidth":1},"encoding":{"y":{"field":"q1","type":"quantitative","scale":{"domain":[4.5,5.22],"nice":false,"zero":false},"axis":{"title":null,"values":[4.5,4.6,4.7,4.8,4.9,5,5.1,5.2],"labels":false,"domainColor":"#555","tickColor":"#555","tickSize":4}},"y2":{"field":"q3"}}},
     {"data":{"name":"ddat"},"transform":[{"filter":"datum.panel === 'Chunksize 80'"}],"mark":{"type":"tick","color":"#ff7f0e","size":14,"thickness":1.5},"encoding":{"y":{"field":"med","type":"quantitative","scale":{"domain":[4.5,5.22],"nice":false,"zero":false},"axis":{"title":null,"values":[4.5,4.6,4.7,4.8,4.9,5,5.1,5.2],"labels":false,"domainColor":"#555","tickColor":"#555","tickSize":4}}}},
     {"data":{"name":"dout"},"transform":[{"filter":"datum.panel === 'Chunksize 80'"}],"mark":{"type":"point","shape":"circle","filled":false,"size":24,"color":"black","strokeWidth":1.2},"encoding":{"y":{"field":"y","type":"quantitative","scale":{"domain":[4.5,5.22],"nice":false,"zero":false},"axis":{"title":null,"values":[4.5,4.6,4.7,4.8,4.9,5,5.1,5.2],"labels":false,"domainColor":"#555","tickColor":"#555","tickSize":4}}}}
    ]},
   {"width":88,"height":185,"title":{"text":"Chunksize 200","fontSize":11.5,"offset":-6,"baseline":"bottom","color":"#222"},
    "encoding":{"x":{"field":"panel","type":"nominal","scale":{"type":"point"},"axis":{"labels":false,"ticks":false,"title":null,"domainColor":"#555"}}},
    "layer":[
     {"data":{"name":"dctx"},"transform":[{"filter":"datum.panel === 'Chunksize 200'"}],"mark":{"type":"circle","size":75,"opacity":1},"encoding":{"y":{"field":"y","type":"quantitative","scale":{"domain":[4.5,5.22],"nice":false,"zero":false},"axis":{"title":null,"values":[4.5,4.6,4.7,4.8,4.9,5,5.1,5.2],"labels":false,"domainColor":"#555","tickColor":"#555","tickSize":4}},"color":{"field":"ctx","type":"nominal","scale":{"domain":["Actual context","No context"],"range":["#0000ff","#ff0000"]},"legend":null}}},
     {"data":{"name":"ddat"},"transform":[{"filter":"datum.panel === 'Chunksize 200'"}],"mark":{"type":"rule","color":"black","strokeWidth":1},"encoding":{"y":{"field":"wlo","type":"quantitative","scale":{"domain":[4.5,5.22],"nice":false,"zero":false},"axis":{"title":null,"values":[4.5,4.6,4.7,4.8,4.9,5,5.1,5.2],"labels":false,"domainColor":"#555","tickColor":"#555","tickSize":4}},"y2":{"field":"whi"}}},
     {"data":{"name":"ddat"},"transform":[{"filter":"datum.panel === 'Chunksize 200'"}],"mark":{"type":"tick","color":"black","size":7,"thickness":1},"encoding":{"y":{"field":"wlo","type":"quantitative","scale":{"domain":[4.5,5.22],"nice":false,"zero":false},"axis":{"title":null,"values":[4.5,4.6,4.7,4.8,4.9,5,5.1,5.2],"labels":false,"domainColor":"#555","tickColor":"#555","tickSize":4}}}},
     {"data":{"name":"ddat"},"transform":[{"filter":"datum.panel === 'Chunksize 200'"}],"mark":{"type":"tick","color":"black","size":7,"thickness":1},"encoding":{"y":{"field":"whi","type":"quantitative","scale":{"domain":[4.5,5.22],"nice":false,"zero":false},"axis":{"title":null,"values":[4.5,4.6,4.7,4.8,4.9,5,5.1,5.2],"labels":false,"domainColor":"#555","tickColor":"#555","tickSize":4}}}},
     {"data":{"name":"ddat"},"transform":[{"filter":"datum.panel === 'Chunksize 200'"}],"mark":{"type":"bar","size":14,"fill":"white","stroke":"black","strokeWidth":1},"encoding":{"y":{"field":"q1","type":"quantitative","scale":{"domain":[4.5,5.22],"nice":false,"zero":false},"axis":{"title":null,"values":[4.5,4.6,4.7,4.8,4.9,5,5.1,5.2],"labels":false,"domainColor":"#555","tickColor":"#555","tickSize":4}},"y2":{"field":"q3"}}},
     {"data":{"name":"ddat"},"transform":[{"filter":"datum.panel === 'Chunksize 200'"}],"mark":{"type":"tick","color":"#ff7f0e","size":14,"thickness":1.5},"encoding":{"y":{"field":"med","type":"quantitative","scale":{"domain":[4.5,5.22],"nice":false,"zero":false},"axis":{"title":null,"values":[4.5,4.6,4.7,4.8,4.9,5,5.1,5.2],"labels":false,"domainColor":"#555","tickColor":"#555","tickSize":4}}}},
     {"data":{"name":"dout"},"transform":[{"filter":"datum.panel === 'Chunksize 200'"}],"mark":{"type":"point","shape":"circle","filled":false,"size":24,"color":"black","strokeWidth":1.2},"encoding":{"y":{"field":"y","type":"quantitative","scale":{"domain":[4.5,5.22],"nice":false,"zero":false},"axis":{"title":null,"values":[4.5,4.6,4.7,4.8,4.9,5,5.1,5.2],"labels":false,"domainColor":"#555","tickColor":"#555","tickSize":4}}}}
    ]},
   {"width":88,"height":185,"title":{"text":"Hand-split sents","fontSize":11.5,"offset":-6,"baseline":"bottom","color":"#222"},
    "encoding":{"x":{"field":"panel","type":"nominal","scale":{"type":"point"},"axis":{"labels":false,"ticks":false,"title":null,"domainColor":"#555"}}},
    "layer":[
     {"data":{"name":"dctx"},"transform":[{"filter":"datum.panel === 'Hand-split sents'"}],"mark":{"type":"circle","size":75,"opacity":1},"encoding":{"y":{"field":"y","type":"quantitative","scale":{"domain":[4.5,5.22],"nice":false,"zero":false},"axis":{"title":null,"values":[4.5,4.6,4.7,4.8,4.9,5,5.1,5.2],"labels":false,"domainColor":"#555","tickColor":"#555","tickSize":4}},"color":{"field":"ctx","type":"nominal","scale":{"domain":["Actual context","No context"],"range":["#0000ff","#ff0000"]},"legend":{"orient":"none","legendX":30,"legendY":5,"title":null,"symbolType":"circle","symbolSize":80,"symbolStrokeWidth":0,"labelFont":"DejaVu Sans","labelFontSize":10.5,"labelColor":"#222","fillColor":"rgba(255,255,255,0.8)","strokeColor":"#ccc","cornerRadius":3,"padding":5,"rowPadding":5,"symbolOffset":6,"labelOffset":14}}}},
     {"data":{"name":"ddat"},"transform":[{"filter":"datum.panel === 'Hand-split sents'"}],"mark":{"type":"rule","color":"black","strokeWidth":1},"encoding":{"y":{"field":"wlo","type":"quantitative","scale":{"domain":[4.5,5.22],"nice":false,"zero":false},"axis":{"title":null,"values":[4.5,4.6,4.7,4.8,4.9,5,5.1,5.2],"labels":false,"domainColor":"#555","tickColor":"#555","tickSize":4}},"y2":{"field":"whi"}}},
     {"data":{"name":"ddat"},"transform":[{"filter":"datum.panel === 'Hand-split sents'"}],"mark":{"type":"tick","color":"black","size":7,"thickness":1},"encoding":{"y":{"field":"wlo","type":"quantitative","scale":{"domain":[4.5,5.22],"nice":false,"zero":false},"axis":{"title":null,"values":[4.5,4.6,4.7,4.8,4.9,5,5.1,5.2],"labels":false,"domainColor":"#555","tickColor":"#555","tickSize":4}}}},
     {"data":{"name":"ddat"},"transform":[{"filter":"datum.panel === 'Hand-split sents'"}],"mark":{"type":"tick","color":"black","size":7,"thickness":1},"encoding":{"y":{"field":"whi","type":"quantitative","scale":{"domain":[4.5,5.22],"nice":false,"zero":false},"axis":{"title":null,"values":[4.5,4.6,4.7,4.8,4.9,5,5.1,5.2],"labels":false,"domainColor":"#555","tickColor":"#555","tickSize":4}}}},
     {"data":{"name":"ddat"},"transform":[{"filter":"datum.panel === 'Hand-split sents'"}],"mark":{"type":"bar","size":14,"fill":"white","stroke":"black","strokeWidth":1},"encoding":{"y":{"field":"q1","type":"quantitative","scale":{"domain":[4.5,5.22],"nice":false,"zero":false},"axis":{"title":null,"values":[4.5,4.6,4.7,4.8,4.9,5,5.1,5.2],"labels":false,"domainColor":"#555","tickColor":"#555","tickSize":4}},"y2":{"field":"q3"}}},
     {"data":{"name":"ddat"},"transform":[{"filter":"datum.panel === 'Hand-split sents'"}],"mark":{"type":"tick","color":"#ff7f0e","size":14,"thickness":1.5},"encoding":{"y":{"field":"med","type":"quantitative","scale":{"domain":[4.5,5.22],"nice":false,"zero":false},"axis":{"title":null,"values":[4.5,4.6,4.7,4.8,4.9,5,5.1,5.2],"labels":false,"domainColor":"#555","tickColor":"#555","tickSize":4}}}},
     {"data":{"name":"dout"},"transform":[{"filter":"datum.panel === 'Hand-split sents'"}],"mark":{"type":"point","shape":"circle","filled":false,"size":24,"color":"black","strokeWidth":1.2},"encoding":{"y":{"field":"y","type":"quantitative","scale":{"domain":[4.5,5.22],"nice":false,"zero":false},"axis":{"title":null,"values":[4.5,4.6,4.7,4.8,4.9,5,5.1,5.2],"labels":false,"domainColor":"#555","tickColor":"#555","tickSize":4}}}}
    ]},
   {"width":88,"height":185,"title":{"text":"Hand-split paras","fontSize":11.5,"offset":-6,"baseline":"bottom","color":"#222"},
    "encoding":{"x":{"field":"panel","type":"nominal","scale":{"type":"point"},"axis":{"labels":false,"ticks":false,"title":null,"domainColor":"#555"}}},
    "layer":[
     {"data":{"name":"dctx"},"transform":[{"filter":"datum.panel === 'Hand-split paras'"}],"mark":{"type":"circle","size":75,"opacity":1},"encoding":{"y":{"field":"y","type":"quantitative","scale":{"domain":[4.5,5.22],"nice":false,"zero":false},"axis":{"title":null,"values":[4.5,4.6,4.7,4.8,4.9,5,5.1,5.2],"labels":false,"domainColor":"#555","tickColor":"#555","tickSize":4}},"color":{"field":"ctx","type":"nominal","scale":{"domain":["Actual context","No context"],"range":["#0000ff","#ff0000"]},"legend":null}}},
     {"data":{"name":"ddat"},"transform":[{"filter":"datum.panel === 'Hand-split paras'"}],"mark":{"type":"rule","color":"black","strokeWidth":1},"encoding":{"y":{"field":"wlo","type":"quantitative","scale":{"domain":[4.5,5.22],"nice":false,"zero":false},"axis":{"title":null,"values":[4.5,4.6,4.7,4.8,4.9,5,5.1,5.2],"labels":false,"domainColor":"#555","tickColor":"#555","tickSize":4}},"y2":{"field":"whi"}}},
     {"data":{"name":"ddat"},"transform":[{"filter":"datum.panel === 'Hand-split paras'"}],"mark":{"type":"tick","color":"black","size":7,"thickness":1},"encoding":{"y":{"field":"wlo","type":"quantitative","scale":{"domain":[4.5,5.22],"nice":false,"zero":false},"axis":{"title":null,"values":[4.5,4.6,4.7,4.8,4.9,5,5.1,5.2],"labels":false,"domainColor":"#555","tickColor":"#555","tickSize":4}}}},
     {"data":{"name":"ddat"},"transform":[{"filter":"datum.panel === 'Hand-split paras'"}],"mark":{"type":"tick","color":"black","size":7,"thickness":1},"encoding":{"y":{"field":"whi","type":"quantitative","scale":{"domain":[4.5,5.22],"nice":false,"zero":false},"axis":{"title":null,"values":[4.5,4.6,4.7,4.8,4.9,5,5.1,5.2],"labels":false,"domainColor":"#555","tickColor":"#555","tickSize":4}}}},
     {"data":{"name":"ddat"},"transform":[{"filter":"datum.panel === 'Hand-split paras'"}],"mark":{"type":"bar","size":14,"fill":"white","stroke":"black","strokeWidth":1},"encoding":{"y":{"field":"q1","type":"quantitative","scale":{"domain":[4.5,5.22],"nice":false,"zero":false},"axis":{"title":null,"values":[4.5,4.6,4.7,4.8,4.9,5,5.1,5.2],"labels":false,"domainColor":"#555","tickColor":"#555","tickSize":4}},"y2":{"field":"q3"}}},
     {"data":{"name":"ddat"},"transform":[{"filter":"datum.panel === 'Hand-split paras'"}],"mark":{"type":"tick","color":"#ff7f0e","size":14,"thickness":1.5},"encoding":{"y":{"field":"med","type":"quantitative","scale":{"domain":[4.5,5.22],"nice":false,"zero":false},"axis":{"title":null,"values":[4.5,4.6,4.7,4.8,4.9,5,5.1,5.2],"labels":false,"domainColor":"#555","tickColor":"#555","tickSize":4}}}},
     {"data":{"name":"dout"},"transform":[{"filter":"datum.panel === 'Hand-split paras'"}],"mark":{"type":"point","shape":"circle","filled":false,"size":24,"color":"black","strokeWidth":1.2},"encoding":{"y":{"field":"y","type":"quantitative","scale":{"domain":[4.5,5.22],"nice":false,"zero":false},"axis":{"title":null,"values":[4.5,4.6,4.7,4.8,4.9,5,5.1,5.2],"labels":false,"domainColor":"#555","tickColor":"#555","tickSize":4}}}}
    ]}
  ]}
]
}
